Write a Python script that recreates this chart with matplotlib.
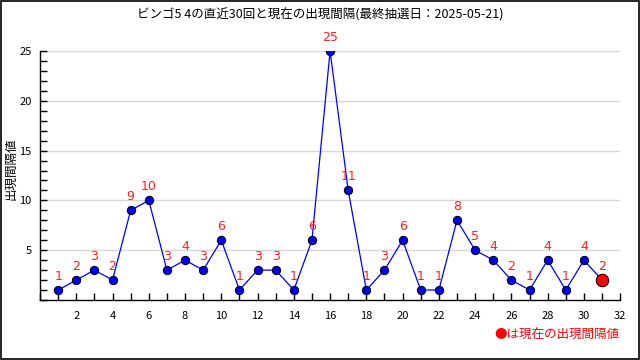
import matplotlib
matplotlib.use("Agg")
import matplotlib.pyplot as plt
from matplotlib.ticker import MultipleLocator
from matplotlib.patches import Rectangle

plt.rcParams["font.family"] = ["Noto Sans CJK JP", "DejaVu Sans"]

# 直近30回の出現間隔
draws = list(range(1, 31))
intervals = [1, 2, 3, 2, 9, 10, 3, 4, 3, 6, 1, 3, 3, 1, 6,
             25, 11, 1, 3, 6, 1, 1, 8, 5, 4, 2, 1, 4, 1, 4]
current_x = 31
current_val = 2
x_labels = list(range(2, 33, 2))

title = "ビンゴ5 4の直近30回と現在の出現間隔(最終抽選日：2025-05-21)"

fig = plt.figure(figsize=(6.4, 3.6), dpi=100)
ax = fig.add_axes([0.0625, 0.1667, 0.9065, 0.6916])

ax.set_xlim(0, 32)
ax.set_ylim(0, 25)

for v in (5, 10, 15, 20, 25):
    ax.axhline(v, color="#d8d8d8", lw=1, zorder=0)

xs = draws + [current_x]
ys = intervals + [current_val]
ax.plot(xs, ys, color="#0000ff", lw=0.9, zorder=2)
ax.plot(draws, intervals, "o", color="#0000ee", mec="black", mew=0.7, ms=6, zorder=3)
ax.plot([current_x], [current_val], "o", color="#ff0000", mec="black", mew=0.7, ms=9, zorder=4)

for x, y in zip(xs, ys):
    ax.annotate(str(y), (x, y), xytext=(0, 5), textcoords="offset points",
                ha="center", va="bottom", color="#ff2020", fontsize=9,
                family="DejaVu Sans")

ax.set_xticks(x_labels)
ax.xaxis.set_minor_locator(MultipleLocator(1))
ax.yaxis.set_minor_locator(MultipleLocator(1))
ax.set_yticks([5, 10, 15, 20, 25])
ax.tick_params(which="both", direction="in", length=5, width=1, labelsize=8)
ax.tick_params(axis="x", pad=8)
ax.tick_params(axis="y", pad=6)

for s in ("top", "right"):
    ax.spines[s].set_visible(False)
ax.spines["left"].set_linewidth(1)
ax.spines["bottom"].set_linewidth(1)

fig.text(0.5, 0.958, title, ha="center", va="center", fontsize=9)
fig.text(0.017, 0.53, "出現間隔値", rotation=90, ha="center", va="center", fontsize=9)
fig.text(0.968, 0.068, "●は現在の出現間隔値", ha="right", va="center",
         color="#ff0000", fontsize=9)

fig.patches.append(Rectangle((0.001, 0.002), 0.997, 0.996, transform=fig.transFigure,
                             fill=False, edgecolor="black", lw=1.2))

fig.savefig("out.png", dpi=100)
